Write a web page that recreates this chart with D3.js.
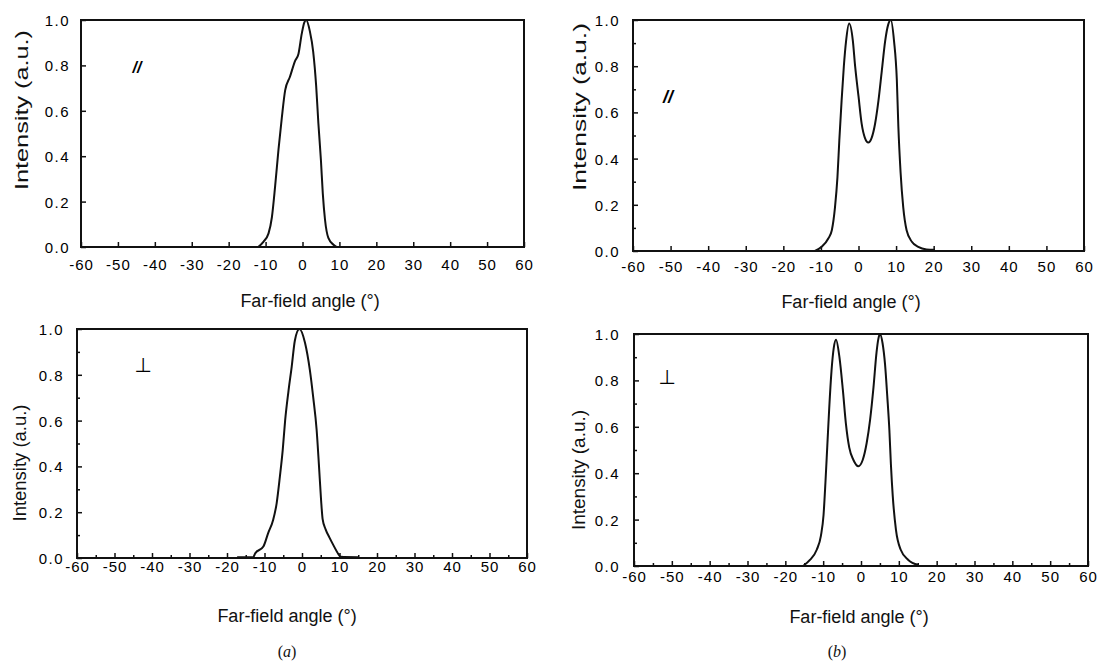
<!DOCTYPE html>
<html>
<head>
<meta charset="utf-8">
<script src="https://cdn.jsdelivr.net/npm/d3@7"></script>
<style>
  html, body { margin: 0; padding: 0; background: #fff; }
  svg { display: block; }
</style>
</head>
<body>
<svg id="chart" width="1101" height="662"></svg>
<script>
// ---------------- data ----------------
const xTickValues = [-60, -50, -40, -30, -20, -10, 0, 10, 20, 30, 40, 50, 60];
const xMinorTickValues = [-55, -45, -35, -25, -15, -5, 5, 15, 25, 35, 45, 55];
const yTickValues = [0, 0.2, 0.4, 0.6, 0.8, 1.0];
const yMinorTickValues = [0.1, 0.3, 0.5, 0.7, 0.9];

const xTitle = "Far-field angle (\u00B0)";
const yTitle = "Intensity (a.u.)";
const markParallel = "//";
const markPerpendicular = "\u22A5";
const subLabels = ["a", "b"];

// (a) parallel
const angleAPar = [-12, -10.6, -9.2, -8.3, -7.4, -6.5, -5.6, -4.7, -3.4, -2.0, -1.1, -0.2, 0.5, 1.0, 2.0, 2.9, 3.7, 4.3, 5.0, 5.5, 6.1, 7.0, 8.4, 9.3];
const intensityAPar = [0, 0.023, 0.06, 0.13, 0.27, 0.43, 0.57, 0.69, 0.75, 0.82, 0.85, 0.94, 0.99, 1.0, 0.95, 0.86, 0.71, 0.545, 0.38, 0.235, 0.12, 0.04, 0.01, 0];

// (b) parallel
const angleBPar = [-11.6, -9.8, -8.0, -7.1, -6.25, -5.6, -5.1, -4.5, -3.9, -3.3, -2.5, -1.5, -0.9, 0, 0.85, 1.7, 2.6, 3.5, 4.4, 5.3, 6.2, 7.1, 7.9, 8.6, 9.45, 10.2, 10.6, 11.2, 11.9, 12.8, 14.2, 15.9, 18.1, 20.3];
const intensityBPar = [0, 0.018, 0.055, 0.09, 0.19, 0.32, 0.48, 0.65, 0.80, 0.91, 0.985, 0.91, 0.80, 0.67, 0.55, 0.49, 0.47, 0.49, 0.55, 0.65, 0.78, 0.91, 0.98, 1.0, 0.91, 0.74, 0.54, 0.34, 0.19, 0.09, 0.04, 0.018, 0.007, 0.005];

// (a) perpendicular
const angleAPerp = [-17.3, -13.0, -12.5, -10.3, -9.0, -7.7, -6.75, -5.9, -5.15, -4.5, -3.6, -2.75, -1.9, -0.7, 0.8, 2.1, 3.0, 3.9, 4.5, 5.1, 5.5, 6.3, 7.3, 8.4, 9.4, 10.3, 15.0];
const intensityAPerp = [0.003, 0.003, 0.02, 0.05, 0.11, 0.166, 0.24, 0.355, 0.47, 0.60, 0.73, 0.835, 0.95, 1.0, 0.94, 0.82, 0.70, 0.56, 0.41, 0.25, 0.17, 0.125, 0.09, 0.055, 0.025, 0.005, 0.003];

// (b) perpendicular
const angleBPerp = [-15.3, -13.5, -11.7, -10.6, -9.9, -9.4, -8.9, -8.4, -7.8, -7.2, -6.6, -5.7, -4.8, -4.0, -3.1, -2.0, -0.7, 0.45, 1.5, 2.4, 3.3, 4.1, 4.6, 5.0, 5.7, 6.35, 6.95, 7.5, 7.9, 8.4, 9.25, 10.5, 12.5, 15.1];
const intensityBPerp = [0.0, 0.026, 0.07, 0.13, 0.22, 0.36, 0.52, 0.68, 0.84, 0.94, 0.975, 0.90, 0.76, 0.615, 0.51, 0.457, 0.43, 0.457, 0.53, 0.63, 0.77, 0.92, 0.98, 1.0, 0.96, 0.87, 0.73, 0.586, 0.44, 0.30, 0.155, 0.07, 0.026, 0.005];

// ---------------- layout ----------------
const svg = d3.select("#chart");

const panels = [
  { angle: angleAPar, intensity: intensityAPar, mark: markParallel, italic: true,
    left: 81, right: 524, top: 20, bottom: 247, minorX: false, minorY: false,
    xLabelDy: 23, yLabelGap: 11, xTitleX: 310, xTitleY: 307, yTitleX: 21, yTitleY: 110, yTitleLen: 160, yTitleSize: 19,
    markX: 137, markY: 73, markSize: 16 },
  { angle: angleBPar, intensity: intensityBPar, mark: markParallel, italic: true,
    left: 633, right: 1084, top: 20, bottom: 251, minorX: false, minorY: true,
    xLabelDy: 21, yLabelGap: 13, xTitleX: 851, xTitleY: 308, yTitleX: 579, yTitleY: 107, yTitleLen: 168, yTitleSize: 19,
    markX: 668, markY: 103, markSize: 18 },
  { angle: angleAPerp, intensity: intensityAPerp, mark: markPerpendicular, italic: false,
    left: 77, right: 527, top: 329, bottom: 558, minorX: true, minorY: true,
    xLabelDy: 14, yLabelGap: 13, xTitleX: 287, xTitleY: 622, yTitleX: 20, yTitleY: 463, yTitleLen: 117, yTitleSize: 18,
    markX: 143, markY: 372, markSize: 20 },
  { angle: angleBPerp, intensity: intensityBPerp, mark: markPerpendicular, italic: false,
    left: 634, right: 1088, top: 334, bottom: 566, minorX: true, minorY: true,
    xLabelDy: 16, yLabelGap: 14, xTitleX: 859, xTitleY: 623, yTitleX: 579, yTitleY: 470, yTitleLen: 120, yTitleSize: 18,
    markX: 667, markY: 384, markSize: 20 }
];

const tickFont = "'Liberation Sans', Arial, sans-serif";

panels.forEach(p => {
  const x = d3.scaleLinear().domain([-60, 60]).range([p.left, p.right]);
  const y = d3.scaleLinear().domain([0, 1]).range([p.bottom, p.top]);
  const g = svg.append("g");

  // frame
  g.append("rect")
    .attr("x", p.left).attr("y", p.top)
    .attr("width", p.right - p.left).attr("height", p.bottom - p.top)
    .attr("fill", "none").attr("stroke", "#111").attr("stroke-width", 2);

  // x axis (ticks inward)
  const xAxis = d3.axisBottom(x).tickValues(xTickValues).tickSize(-5).tickPadding(0).tickFormat(d => String(d));
  const xg = g.append("g").attr("transform", `translate(0,${p.bottom})`).call(xAxis);
  xg.select(".domain").remove();
  xg.selectAll(".tick line").attr("stroke", "#111").attr("stroke-width", 1.5);
  xg.selectAll(".tick text")
    .attr("y", p.xLabelDy).attr("dy", null)
    .attr("fill", "#000")
    .style("font-family", tickFont).style("font-size", "15px").style("letter-spacing", "1px");
  if (p.minorX) {
    const xm = d3.axisBottom(x).tickValues(xMinorTickValues).tickSize(-3).tickFormat("");
    const xmg = g.append("g").attr("transform", `translate(0,${p.bottom})`).call(xm);
    xmg.select(".domain").remove();
    xmg.selectAll(".tick line").attr("stroke", "#111").attr("stroke-width", 1.5);
  }

  // y axis (ticks inward)
  const yAxis = d3.axisLeft(y).tickValues(yTickValues).tickSize(-5).tickPadding(0).tickFormat(d3.format(".1f"));
  const yg = g.append("g").attr("transform", `translate(${p.left},0)`).call(yAxis);
  yg.select(".domain").remove();
  yg.selectAll(".tick line").attr("stroke", "#111").attr("stroke-width", 1.5);
  yg.selectAll(".tick text")
    .attr("x", -p.yLabelGap).attr("dy", "0.36em")
    .attr("fill", "#000")
    .style("font-family", tickFont).style("font-size", "15px").style("letter-spacing", "1.5px");
  if (p.minorY) {
    const ym = d3.axisLeft(y).tickValues(yMinorTickValues).tickSize(-3).tickFormat("");
    const ymg = g.append("g").attr("transform", `translate(${p.left},0)`).call(ym);
    ymg.select(".domain").remove();
    ymg.selectAll(".tick line").attr("stroke", "#111").attr("stroke-width", 1.5);
  }

  // curve
  const pts = p.angle.map((a, i) => [a, p.intensity[i]]);
  const line = d3.line().x(d => x(d[0])).y(d => y(d[1])).curve(d3.curveMonotoneX);
  g.append("path").datum(pts)
    .attr("d", line)
    .attr("fill", "none").attr("stroke", "#111").attr("stroke-width", 2)
    .attr("stroke-linejoin", "round");

  // polarization mark
  g.append("text")
    .attr("x", p.markX).attr("y", p.markY)
    .attr("text-anchor", "middle")
    .style("font-family", p.italic ? "'Liberation Sans', Arial, sans-serif" : "'DejaVu Sans', sans-serif")
    .style("font-style", p.italic ? "italic" : "normal")
    .style("font-weight", p.italic ? "bold" : "normal")
    .style("font-size", p.markSize + "px")
    .attr("fill", "#000")
    .text(p.mark);

  // x title
  g.append("text")
    .attr("x", p.xTitleX).attr("y", p.xTitleY)
    .attr("text-anchor", "middle")
    .style("font-family", "'Liberation Sans', Arial, sans-serif")
    .style("font-size", "18px")
    .attr("fill", "#111")
    .text(xTitle);

  // y title
  g.append("text")
    .attr("transform", `translate(${p.yTitleX},${p.yTitleY}) rotate(-90)`)
    .attr("text-anchor", "middle")
    .attr("dy", "0.35em")
    .attr("textLength", p.yTitleLen)
    .attr("lengthAdjust", "spacingAndGlyphs")
    .style("font-family", "'Liberation Sans', Arial, sans-serif")
    .style("font-size", p.yTitleSize + "px")
    .attr("fill", "#111")
    .text(yTitle);
});

// sub-figure labels
const subX = [287, 837];
subLabels.forEach((s, i) => {
  const t = svg.append("text")
    .attr("x", subX[i]).attr("y", 657)
    .attr("text-anchor", "middle")
    .style("font-family", "'Liberation Serif', 'Times New Roman', serif")
    .style("font-size", "16px")
    .attr("fill", "#111");
  t.append("tspan").text("(");
  t.append("tspan").style("font-style", "italic").text(s);
  t.append("tspan").text(")");
});
</script>
</body>
</html>
